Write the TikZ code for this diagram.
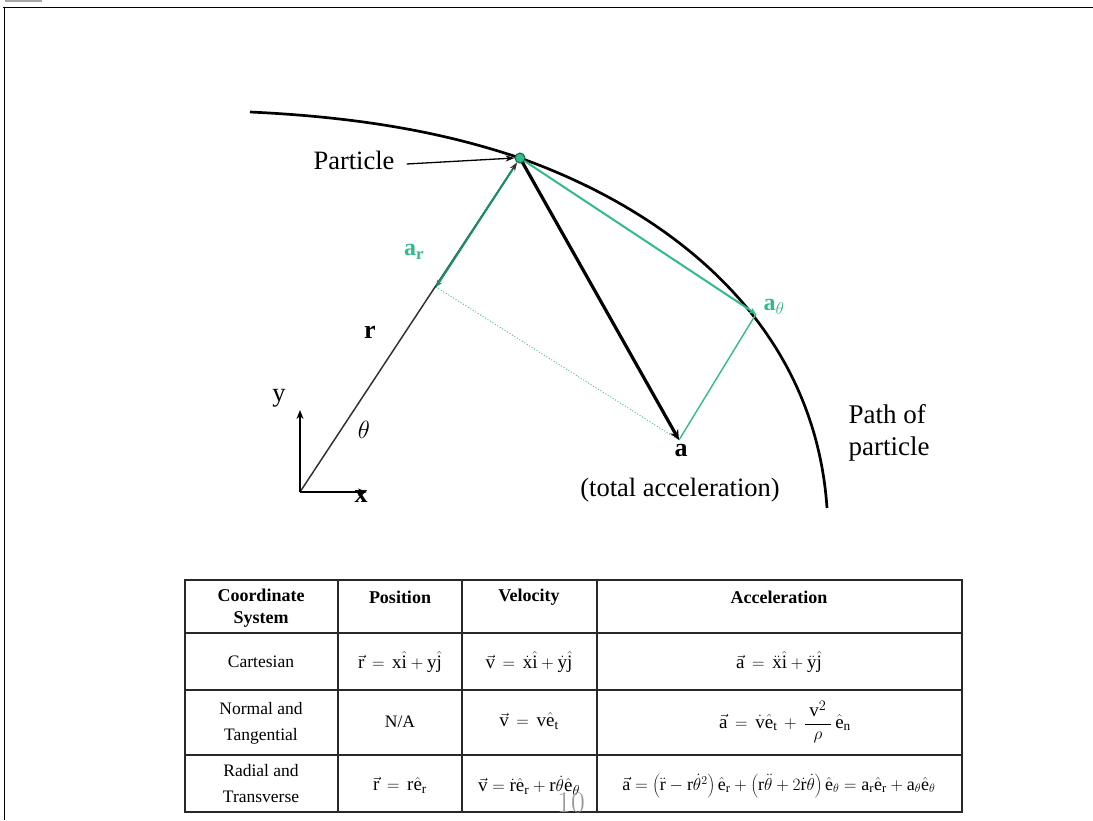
\documentclass[tikz,border=0pt]{standalone}
\usepackage{fontspec}
\setmainfont{Liberation Serif}
\newfontfamily\lmfont{Latin Modern Roman}
\usetikzlibrary{arrows.meta}
\definecolor{grn}{RGB}{50,185,140}
\definecolor{dgrn}{RGB}{25,145,100}
\definecolor{tabline}{RGB}{40,40,40}
\begin{document}
\begin{tikzpicture}[x=1pt,y=-1pt,
  lbl/.style={inner sep=0pt,font=\fontsize{26.5}{32}\selectfont},
  blbl/.style={inner sep=0pt,font=\fontsize{26}{32}\selectfont\bfseries},
  glbl/.style={inner sep=0pt,text=grn,font=\fontsize{24}{30}\selectfont\bfseries},
  cell/.style={inner sep=0pt,font=\fontsize{17.5}{26}\selectfont,align=center},
  mcell/.style={inner sep=0pt,font=\fontsize{19}{26}\selectfont,align=center},
  hcell/.style={cell,font=\fontsize{18}{22}\selectfont\bfseries}
]
\useasboundingbox (0,0) rectangle (1093,820);
% frame
\draw[gray!70,line width=1.5pt] (5,0.8) -- (42,0.8);
\draw[line width=1.6pt] (3,7.5) -- (1093,7.5);
\draw[line width=1pt] (4,7.5) -- (4,820);

% path of particle
\draw[line width=2.7pt] (250,112) .. controls (380,118) and (460,138) .. (520,158)
  .. controls (680,215) and (815,330) .. (827,508);

% key points
\coordinate (O) at (300,492);
\coordinate (P) at (520,158);
\coordinate (R) at (436,287);
\coordinate (T) at (756,314);
\coordinate (A) at (679,440);
\coordinate (Yt) at (300,410);
\coordinate (Xt) at (367,492);

% parallelogram construction
\draw[grn,line width=0.9pt,dotted] (R) -- (A);
\draw[grn,line width=1.4pt] (T) -- (A);
% r vector
\draw[black!80,line width=1.5pt,-{Stealth[length=9pt,width=6pt]},shorten >=5pt] (O) -- (P);
% a_r
\draw[dgrn,line width=2pt,-{Stealth[length=7pt,width=6pt]},shorten <=14pt] (P) -- (R);
% a_theta
\draw[grn,line width=2pt,-{Stealth[length=7pt,width=6pt]}] (P) -- (T);
% total a
\draw[line width=3.2pt,-{Stealth[length=10pt,width=9pt]}] (P) -- (A);
% axes
\draw[line width=1.4pt,-{Stealth[length=9pt,width=7pt]}] (O) -- (Yt);
\draw[line width=1.4pt,-{Stealth[length=9pt,width=7pt]}] (O) -- (Xt);

% particle
\node[circle,fill=grn,draw=dgrn!70!black,line width=1pt,minimum size=10pt,inner sep=0pt] (dot) at (P) {};
\node[lbl] (plab) at (354,160) {Particle};
\draw[line width=1.3pt,-{Stealth[length=9pt,width=6pt]}] (plab.east) ++(12,4) coordinate (ps) -- (dot.west);

% labels
\node[glbl] (lar) at (414,252) {a\textsubscript{r}};
\node[glbl] (lat) at (774,307) {a\textsubscript{$\theta$}};
\node[blbl] (lr) at (370,332) {r};
\node[lbl] (ly) at (279,398) {y};
\node[lbl] (lth) at (364,430) {$\theta$};
\node[blbl] (lx) at (361,497) {x};
\node[blbl] (la) at (681,451) {a};
\node[lbl] (lta) at (680,490) {(total acceleration)};
\node[lbl,align=left,font=\fontsize{27}{32}\selectfont] (lpath) at (889,433) {Path of\\particle};

% table
\draw[tabline,line width=1.3pt] (185,580) rectangle (962,812);
\draw[tabline,line width=1.2pt] (338,580) -- (338,812) (462,580) -- (462,812) (597,580) -- (597,812);
\draw[tabline,line width=1.2pt] (185,633) -- (962,633) (185,690) -- (962,690) (185,755) -- (962,755);

\node[hcell] (h1) at (261,608) {Coordinate\\System};
\node[hcell] (h2) at (400,597) {Position};
\node[hcell] (h3) at (529,597) {Velocity};
\node[hcell] (h4) at (779,597) {Acceleration};

\node[cell] (c11) at (261,662) {Cartesian};
\node[mcell] (c12) at (400,662) {$\vec{\mathrm{r}}\,=\,\mathrm{x}\hat{\mathrm{i}}+\mathrm{y}\hat{\mathrm{j}}$};
\node[mcell] (c13) at (529,662) {$\vec{\mathrm{v}}\,=\,\dot{\mathrm{x}}\hat{\mathrm{i}}+\dot{\mathrm{y}}\hat{\mathrm{j}}$};
\node[mcell] (c14) at (779,662) {$\vec{\mathrm{a}}\,=\,\ddot{\mathrm{x}}\hat{\mathrm{i}}+\ddot{\mathrm{y}}\hat{\mathrm{j}}$};

\node[cell] (c21) at (261,723) {Normal and\\Tangential};
\node[cell] (c22) at (400,722) {N/A};
\node[mcell] (c23) at (529,721) {$\vec{\mathrm{v}}\,=\,\mathrm{v}\hat{\mathrm{e}}_{\mathrm{t}}$};
\node[mcell] (c24) at (785,722) {$\displaystyle\vec{\mathrm{a}}\,=\,\dot{\mathrm{v}}\hat{\mathrm{e}}_{\mathrm{t}}\,+\,\frac{\;\mathrm{v}^2\;}{\rho}\,\hat{\mathrm{e}}_{\mathrm{n}}$};

\node[cell] (c31) at (261,784) {Radial and\\Transverse};
\node[mcell] (c32) at (400,785) {$\vec{\mathrm{r}}\,=\,\mathrm{r}\hat{\mathrm{e}}_{\mathrm{r}}$};
\node[mcell] (c33) at (529,786) {$\vec{\mathrm{v}}=\dot{\mathrm{r}}\hat{\mathrm{e}}_{\mathrm{r}}+\mathrm{r}\dot{\theta}\hat{\mathrm{e}}_{\theta}$};
\node[mcell,font=\fontsize{18}{24}\selectfont] (c34) at (779,786) {$\vec{\mathrm{a}}=\left(\ddot{\mathrm{r}}-\mathrm{r}\dot{\theta}^2\right)\hat{\mathrm{e}}_{\mathrm{r}}+\left(\mathrm{r}\ddot{\theta}+2\dot{\mathrm{r}}\dot{\theta}\right)\hat{\mathrm{e}}_{\theta}=\mathrm{a}_{\mathrm{r}}\hat{\mathrm{e}}_{\mathrm{r}}+\mathrm{a}_{\theta}\hat{\mathrm{e}}_{\theta}$};

% page number
\node[inner sep=0pt,text=gray!80,font=\lmfont\fontsize{30}{34}\selectfont] (pnum) at (571,803) {10};
\end{tikzpicture}
\end{document}
